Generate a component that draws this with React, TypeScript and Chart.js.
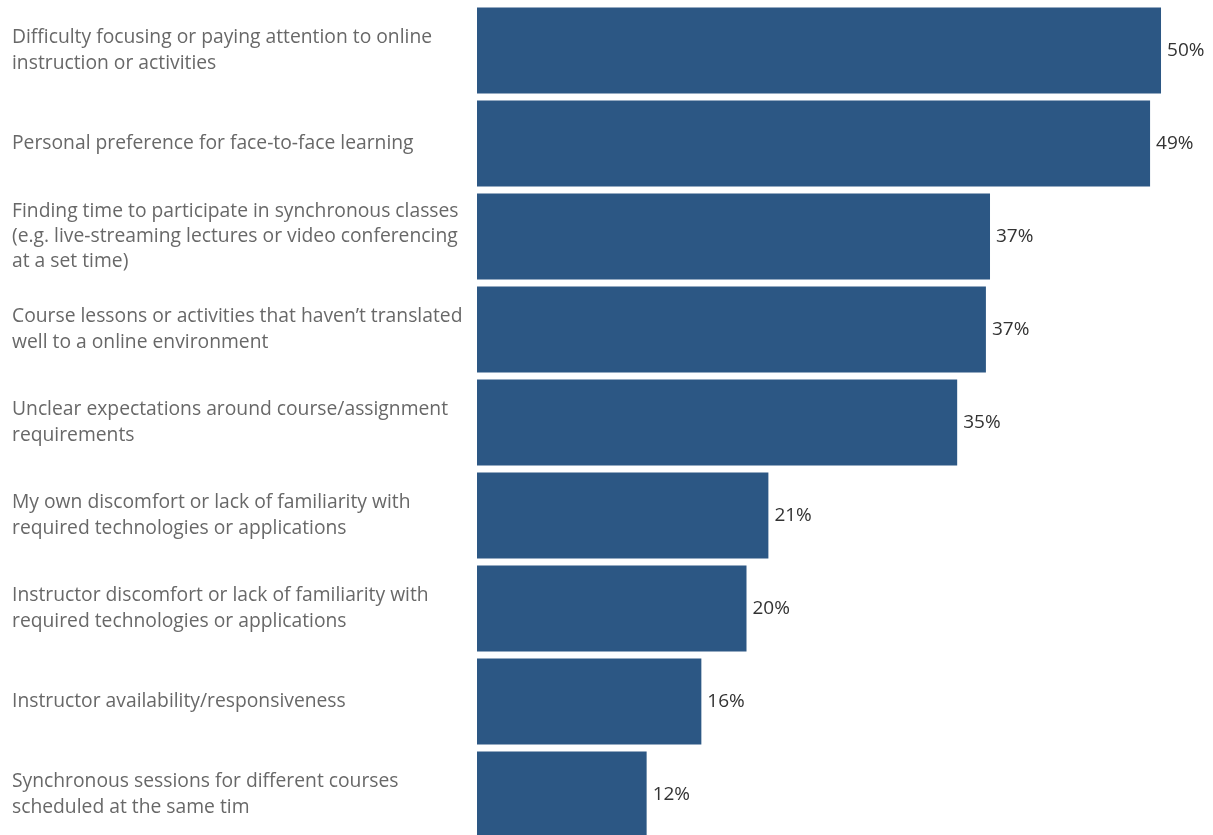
import React, { useEffect, useRef } from "react";
import { Chart, registerables } from "chart.js";

Chart.register(...registerables);

const categories: string[][] = [
  ["Difficulty focusing or paying attention to online", "instruction or activities"],
  ["Personal preference for face-to-face learning"],
  ["Finding time to participate in synchronous classes", "(e.g. live-streaming lectures or video conferencing", "at a set time)"],
  ["Course lessons or activities that haven\u2019t translated", "well to a online environment"],
  ["Unclear expectations around course/assignment", "requirements"],
  ["My own discomfort or lack of familiarity with", "required technologies or applications"],
  ["Instructor discomfort or lack of familiarity with", "required technologies or applications"],
  ["Instructor availability/responsiveness"],
  ["Synchronous sessions for different courses", "scheduled at the same tim"],
];

const values: number[] = [50.0, 49.2, 37.5, 37.2, 35.1, 21.3, 19.7, 16.4, 12.4];
const valueLabels: string[] = ["50%", "49%", "37%", "37%", "35%", "21%", "20%", "16%", "12%"];

const BAR_COLOR = "#2c5784";
const FONT = "'Open Sans', sans-serif";

const valueLabelPlugin = {
  id: "valueLabels",
  afterDatasetsDraw(chart: any) {
    const ctx = chart.ctx;
    const meta = chart.getDatasetMeta(0);
    ctx.save();
    ctx.font = `19px ${FONT}`;
    ctx.fillStyle = "#333333";
    ctx.textAlign = "left";
    ctx.textBaseline = "middle";
    meta.data.forEach((bar: any, i: number) => {
      ctx.fillText(valueLabels[i], bar.x + 6, bar.y);
    });
    ctx.restore();
  },
};

export default function App() {
  const canvasRef = useRef<HTMLCanvasElement | null>(null);

  useEffect(() => {
    if (!canvasRef.current) return;
    const chart = new Chart(canvasRef.current, {
      type: "bar",
      data: {
        labels: categories,
        datasets: [
          {
            data: values,
            backgroundColor: BAR_COLOR,
            barPercentage: 0.925,
            categoryPercentage: 1,
          },
        ],
      },
      options: {
        indexAxis: "y",
        responsive: false,
        animation: false,
        layout: { padding: { left: 12, top: 4, right: 0, bottom: 0 } },
        plugins: {
          legend: { display: false },
          tooltip: { enabled: false },
        },
        scales: {
          x: {
            display: false,
            min: 0,
            max: 53.8,
          },
          y: {
            grid: { display: false },
            border: { display: false },
            ticks: {
              crossAlign: "far",
              color: "#686868",
              font: { family: FONT, size: 19.3, lineHeight: 1.3 },
              autoSkip: false,
            },
            afterFit(scale: any) {
              scale.width = 465;
              scale.paddingTop = 0;
              scale.paddingBottom = 0;
            },
          },
        },
      },
      plugins: [valueLabelPlugin],
    });
    return () => chart.destroy();
  }, []);

  return (
    <div style={{ position: "fixed", left: 0, top: 0, width: 1213, height: 841, background: "#fff" }}>
      <canvas ref={canvasRef} width={1213} height={841} />
    </div>
  );
}
